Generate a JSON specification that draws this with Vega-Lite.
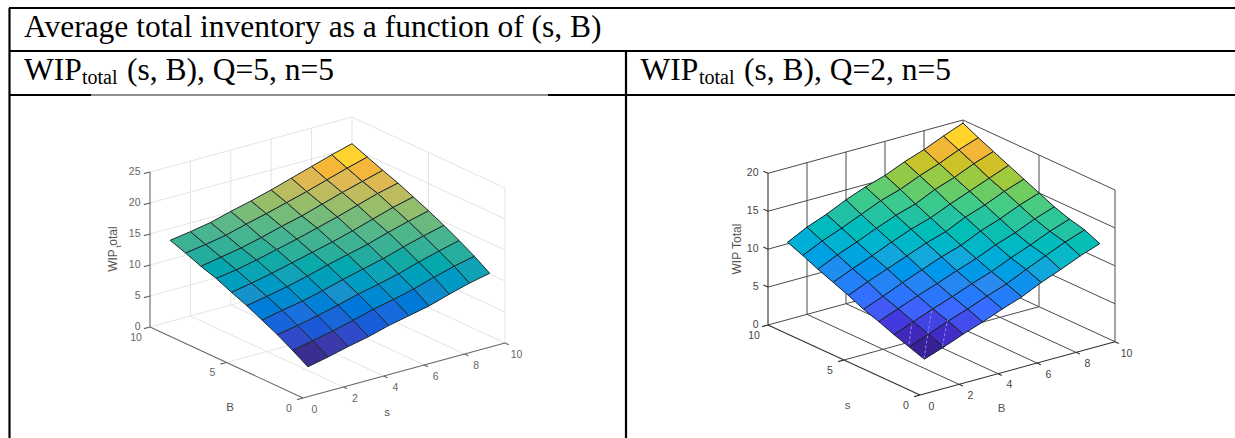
{"$schema":"https://vega.github.io/schema/vega-lite/v6.json","width":1235,"height":438,"autosize":"none","padding":0,"background":"white","config":{"view":{"stroke":null}},
"datasets":{
"tableLines":[
{"id":"top","px":9,"py":8},{"id":"top","px":1235,"py":8},
{"id":"r2","px":9,"py":51},{"id":"r2","px":1235,"py":51},
{"id":"left","px":9.5,"py":8},{"id":"left","px":9.5,"py":438},
{"id":"mid","px":626,"py":51},{"id":"mid","px":626,"py":438},
{"id":"r3a","px":9,"py":95},{"id":"r3a","px":91,"py":95},
{"id":"r3c","px":548,"py":95},{"id":"r3c","px":1235,"py":95}],
"thinLines":[{"id":"r3b","px":91,"py":95},{"id":"r3b","px":548,"py":95}],
"marks":[
{"id":"m1","px":911.7,"py":323.3},{"id":"m1","px":909,"py":344},
{"id":"m2","px":931.7,"py":310},{"id":"m2","px":924,"py":358.3},
{"id":"m3","px":947.5,"py":320},{"id":"m3","px":942.5,"py":346}],
"bigText":[
{"t":"Average total inventory as a function of (s, B)","px":24,"py":36.5},
{"t":"WIP","px":24,"py":79.5},{"t":"(s, B), Q=5, n=5","px":127,"py":79.5},
{"t":"WIP","px":640.5,"py":79.5},{"t":"(s, B), Q=2, n=5","px":744,"py":79.5}],
"subText":[{"t":"total","px":82,"py":84},{"t":"total","px":699,"py":84}],
"axisTitles":[{"t":"B","px":230,"py":408},{"t":"s","px":387,"py":413},{"t":"s","px":847.7,"py":405.7},{"t":"B","px":1001.7,"py":409}],
"yTitles":[{"t":"WIP","px":116.7,"py":260.5},{"t":"otal","px":116.7,"py":236},{"t":"WIP Total","px":740.7,"py":249}],
"ySub":[{"t":"t","px":121,"py":246.5}]
},
"data":{"values":[
{"kind":"v","p":1,"s":1,"B":1,"w":3.0},{"kind":"v","p":1,"s":2,"B":1,"w":3.7},{"kind":"v","p":1,"s":3,"B":1,"w":4.5},{"kind":"v","p":1,"s":4,"B":1,"w":5.2},{"kind":"v","p":1,"s":5,"B":1,"w":6.1},{"kind":"v","p":1,"s":6,"B":1,"w":6.8},{"kind":"v","p":1,"s":7,"B":1,"w":7.5},{"kind":"v","p":1,"s":8,"B":1,"w":8.5},{"kind":"v","p":1,"s":9,"B":1,"w":9.4},{"kind":"v","p":1,"s":10,"B":1,"w":10.1},
{"kind":"v","p":1,"s":1,"B":2,"w":4.5},{"kind":"v","p":1,"s":2,"B":2,"w":5.2},{"kind":"v","p":1,"s":3,"B":2,"w":5.9},{"kind":"v","p":1,"s":4,"B":2,"w":6.7},{"kind":"v","p":1,"s":5,"B":2,"w":7.6},{"kind":"v","p":1,"s":6,"B":2,"w":8.3},{"kind":"v","p":1,"s":7,"B":2,"w":9.1},{"kind":"v","p":1,"s":8,"B":2,"w":10.1},{"kind":"v","p":1,"s":9,"B":2,"w":11.0},{"kind":"v","p":1,"s":10,"B":2,"w":11.7},
{"kind":"v","p":1,"s":1,"B":3,"w":5.9},{"kind":"v","p":1,"s":2,"B":3,"w":6.5},{"kind":"v","p":1,"s":3,"B":3,"w":7.2},{"kind":"v","p":1,"s":4,"B":3,"w":8.0},{"kind":"v","p":1,"s":5,"B":3,"w":8.9},{"kind":"v","p":1,"s":6,"B":3,"w":9.6},{"kind":"v","p":1,"s":7,"B":3,"w":10.4},{"kind":"v","p":1,"s":8,"B":3,"w":11.4},{"kind":"v","p":1,"s":9,"B":3,"w":12.3},{"kind":"v","p":1,"s":10,"B":3,"w":13.1},
{"kind":"v","p":1,"s":1,"B":4,"w":7.1},{"kind":"v","p":1,"s":2,"B":4,"w":7.8},{"kind":"v","p":1,"s":3,"B":4,"w":8.4},{"kind":"v","p":1,"s":4,"B":4,"w":9.2},{"kind":"v","p":1,"s":5,"B":4,"w":10.1},{"kind":"v","p":1,"s":6,"B":4,"w":10.9},{"kind":"v","p":1,"s":7,"B":4,"w":11.7},{"kind":"v","p":1,"s":8,"B":4,"w":12.7},{"kind":"v","p":1,"s":9,"B":4,"w":13.6},{"kind":"v","p":1,"s":10,"B":4,"w":14.4},
{"kind":"v","p":1,"s":1,"B":5,"w":8.3},{"kind":"v","p":1,"s":2,"B":5,"w":8.9},{"kind":"v","p":1,"s":3,"B":5,"w":9.6},{"kind":"v","p":1,"s":4,"B":5,"w":10.4},{"kind":"v","p":1,"s":5,"B":5,"w":11.3},{"kind":"v","p":1,"s":6,"B":5,"w":12.1},{"kind":"v","p":1,"s":7,"B":5,"w":12.9},{"kind":"v","p":1,"s":8,"B":5,"w":13.9},{"kind":"v","p":1,"s":9,"B":5,"w":14.8},{"kind":"v","p":1,"s":10,"B":5,"w":15.6},
{"kind":"v","p":1,"s":1,"B":6,"w":9.3},{"kind":"v","p":1,"s":2,"B":6,"w":9.9},{"kind":"v","p":1,"s":3,"B":6,"w":10.6},{"kind":"v","p":1,"s":4,"B":6,"w":11.4},{"kind":"v","p":1,"s":5,"B":6,"w":12.2},{"kind":"v","p":1,"s":6,"B":6,"w":13.0},{"kind":"v","p":1,"s":7,"B":6,"w":13.9},{"kind":"v","p":1,"s":8,"B":6,"w":14.9},{"kind":"v","p":1,"s":9,"B":6,"w":15.9},{"kind":"v","p":1,"s":10,"B":6,"w":16.7},
{"kind":"v","p":1,"s":1,"B":7,"w":10.4},{"kind":"v","p":1,"s":2,"B":7,"w":10.9},{"kind":"v","p":1,"s":3,"B":7,"w":11.6},{"kind":"v","p":1,"s":4,"B":7,"w":12.4},{"kind":"v","p":1,"s":5,"B":7,"w":13.2},{"kind":"v","p":1,"s":6,"B":7,"w":14.1},{"kind":"v","p":1,"s":7,"B":7,"w":15.0},{"kind":"v","p":1,"s":8,"B":7,"w":16.0},{"kind":"v","p":1,"s":9,"B":7,"w":17.0},{"kind":"v","p":1,"s":10,"B":7,"w":17.8},
{"kind":"v","p":1,"s":1,"B":8,"w":11.2},{"kind":"v","p":1,"s":2,"B":8,"w":11.8},{"kind":"v","p":1,"s":3,"B":8,"w":12.4},{"kind":"v","p":1,"s":4,"B":8,"w":13.2},{"kind":"v","p":1,"s":5,"B":8,"w":14.1},{"kind":"v","p":1,"s":6,"B":8,"w":14.9},{"kind":"v","p":1,"s":7,"B":8,"w":15.9},{"kind":"v","p":1,"s":8,"B":8,"w":16.9},{"kind":"v","p":1,"s":9,"B":8,"w":17.8},{"kind":"v","p":1,"s":10,"B":8,"w":18.7},
{"kind":"v","p":1,"s":1,"B":9,"w":12.2},{"kind":"v","p":1,"s":2,"B":9,"w":12.7},{"kind":"v","p":1,"s":3,"B":9,"w":13.3},{"kind":"v","p":1,"s":4,"B":9,"w":14.2},{"kind":"v","p":1,"s":5,"B":9,"w":15.0},{"kind":"v","p":1,"s":6,"B":9,"w":15.9},{"kind":"v","p":1,"s":7,"B":9,"w":16.8},{"kind":"v","p":1,"s":8,"B":9,"w":17.8},{"kind":"v","p":1,"s":9,"B":9,"w":18.8},{"kind":"v","p":1,"s":10,"B":9,"w":19.7},
{"kind":"v","p":1,"s":1,"B":10,"w":13.1},{"kind":"v","p":1,"s":2,"B":10,"w":13.6},{"kind":"v","p":1,"s":3,"B":10,"w":14.2},{"kind":"v","p":1,"s":4,"B":10,"w":15.1},{"kind":"v","p":1,"s":5,"B":10,"w":15.9},{"kind":"v","p":1,"s":6,"B":10,"w":16.8},{"kind":"v","p":1,"s":7,"B":10,"w":17.8},{"kind":"v","p":1,"s":8,"B":10,"w":18.8},{"kind":"v","p":1,"s":9,"B":10,"w":19.8},{"kind":"v","p":1,"s":10,"B":10,"w":20.7},
{"kind":"v","p":2,"s":1,"B":1,"w":3.1},{"kind":"v","p":2,"s":2,"B":1,"w":3.8},{"kind":"v","p":2,"s":3,"B":1,"w":4.5},{"kind":"v","p":2,"s":4,"B":1,"w":5.3},{"kind":"v","p":2,"s":5,"B":1,"w":6.0},{"kind":"v","p":2,"s":6,"B":1,"w":6.9},{"kind":"v","p":2,"s":7,"B":1,"w":7.7},{"kind":"v","p":2,"s":8,"B":1,"w":8.5},{"kind":"v","p":2,"s":9,"B":1,"w":9.4},{"kind":"v","p":2,"s":10,"B":1,"w":10.2},
{"kind":"v","p":2,"s":1,"B":2,"w":4.0},{"kind":"v","p":2,"s":2,"B":2,"w":4.8},{"kind":"v","p":2,"s":3,"B":2,"w":5.5},{"kind":"v","p":2,"s":4,"B":2,"w":6.3},{"kind":"v","p":2,"s":5,"B":2,"w":7.0},{"kind":"v","p":2,"s":6,"B":2,"w":8.0},{"kind":"v","p":2,"s":7,"B":2,"w":8.8},{"kind":"v","p":2,"s":8,"B":2,"w":9.7},{"kind":"v","p":2,"s":9,"B":2,"w":10.6},{"kind":"v","p":2,"s":10,"B":2,"w":11.5},
{"kind":"v","p":2,"s":1,"B":3,"w":5.0},{"kind":"v","p":2,"s":2,"B":3,"w":5.8},{"kind":"v","p":2,"s":3,"B":3,"w":6.5},{"kind":"v","p":2,"s":4,"B":3,"w":7.3},{"kind":"v","p":2,"s":5,"B":3,"w":8.1},{"kind":"v","p":2,"s":6,"B":3,"w":9.0},{"kind":"v","p":2,"s":7,"B":3,"w":9.8},{"kind":"v","p":2,"s":8,"B":3,"w":10.7},{"kind":"v","p":2,"s":9,"B":3,"w":11.6},{"kind":"v","p":2,"s":10,"B":3,"w":12.5},
{"kind":"v","p":2,"s":1,"B":4,"w":5.9},{"kind":"v","p":2,"s":2,"B":4,"w":6.7},{"kind":"v","p":2,"s":3,"B":4,"w":7.4},{"kind":"v","p":2,"s":4,"B":4,"w":8.2},{"kind":"v","p":2,"s":5,"B":4,"w":9.1},{"kind":"v","p":2,"s":6,"B":4,"w":10.0},{"kind":"v","p":2,"s":7,"B":4,"w":10.9},{"kind":"v","p":2,"s":8,"B":4,"w":11.8},{"kind":"v","p":2,"s":9,"B":4,"w":12.7},{"kind":"v","p":2,"s":10,"B":4,"w":13.7},
{"kind":"v","p":2,"s":1,"B":5,"w":6.9},{"kind":"v","p":2,"s":2,"B":5,"w":7.7},{"kind":"v","p":2,"s":3,"B":5,"w":8.4},{"kind":"v","p":2,"s":4,"B":5,"w":9.2},{"kind":"v","p":2,"s":5,"B":5,"w":10.1},{"kind":"v","p":2,"s":6,"B":5,"w":11.0},{"kind":"v","p":2,"s":7,"B":5,"w":11.9},{"kind":"v","p":2,"s":8,"B":5,"w":12.8},{"kind":"v","p":2,"s":9,"B":5,"w":13.8},{"kind":"v","p":2,"s":10,"B":5,"w":14.7},
{"kind":"v","p":2,"s":1,"B":6,"w":7.8},{"kind":"v","p":2,"s":2,"B":6,"w":8.6},{"kind":"v","p":2,"s":3,"B":6,"w":9.3},{"kind":"v","p":2,"s":4,"B":6,"w":10.1},{"kind":"v","p":2,"s":5,"B":6,"w":10.9},{"kind":"v","p":2,"s":6,"B":6,"w":11.8},{"kind":"v","p":2,"s":7,"B":6,"w":12.7},{"kind":"v","p":2,"s":8,"B":6,"w":13.6},{"kind":"v","p":2,"s":9,"B":6,"w":14.6},{"kind":"v","p":2,"s":10,"B":6,"w":15.5},
{"kind":"v","p":2,"s":1,"B":7,"w":9.0},{"kind":"v","p":2,"s":2,"B":7,"w":9.8},{"kind":"v","p":2,"s":3,"B":7,"w":10.4},{"kind":"v","p":2,"s":4,"B":7,"w":11.2},{"kind":"v","p":2,"s":5,"B":7,"w":12.1},{"kind":"v","p":2,"s":6,"B":7,"w":13.0},{"kind":"v","p":2,"s":7,"B":7,"w":13.8},{"kind":"v","p":2,"s":8,"B":7,"w":14.8},{"kind":"v","p":2,"s":9,"B":7,"w":15.7},{"kind":"v","p":2,"s":10,"B":7,"w":16.6},
{"kind":"v","p":2,"s":1,"B":8,"w":10.0},{"kind":"v","p":2,"s":2,"B":8,"w":10.9},{"kind":"v","p":2,"s":3,"B":8,"w":11.4},{"kind":"v","p":2,"s":4,"B":8,"w":12.1},{"kind":"v","p":2,"s":5,"B":8,"w":13.0},{"kind":"v","p":2,"s":6,"B":8,"w":13.9},{"kind":"v","p":2,"s":7,"B":8,"w":14.8},{"kind":"v","p":2,"s":8,"B":8,"w":15.7},{"kind":"v","p":2,"s":9,"B":8,"w":16.6},{"kind":"v","p":2,"s":10,"B":8,"w":17.5},
{"kind":"v","p":2,"s":1,"B":9,"w":11.1},{"kind":"v","p":2,"s":2,"B":9,"w":12.0},{"kind":"v","p":2,"s":3,"B":9,"w":12.5},{"kind":"v","p":2,"s":4,"B":9,"w":13.2},{"kind":"v","p":2,"s":5,"B":9,"w":14.1},{"kind":"v","p":2,"s":6,"B":9,"w":15.0},{"kind":"v","p":2,"s":7,"B":9,"w":15.8},{"kind":"v","p":2,"s":8,"B":9,"w":16.8},{"kind":"v","p":2,"s":9,"B":9,"w":17.7},{"kind":"v","p":2,"s":10,"B":9,"w":18.6},
{"kind":"v","p":2,"s":1,"B":10,"w":12.0},{"kind":"v","p":2,"s":2,"B":10,"w":12.9},{"kind":"v","p":2,"s":3,"B":10,"w":13.4},{"kind":"v","p":2,"s":4,"B":10,"w":14.1},{"kind":"v","p":2,"s":5,"B":10,"w":15.0},{"kind":"v","p":2,"s":6,"B":10,"w":15.9},{"kind":"v","p":2,"s":7,"B":10,"w":16.8},{"kind":"v","p":2,"s":8,"B":10,"w":17.7},{"kind":"v","p":2,"s":9,"B":10,"w":18.6},{"kind":"v","p":2,"s":10,"B":10,"w":19.6},

{"kind":"g","p":1,"id":"w0","s":0,"B":10,"w":0},{"kind":"g","p":1,"id":"w0","s":10,"B":10,"w":0},{"kind":"g","p":1,"id":"w0","s":10,"B":0,"w":0},
{"kind":"g","p":1,"id":"w5","s":0,"B":10,"w":5},{"kind":"g","p":1,"id":"w5","s":10,"B":10,"w":5},{"kind":"g","p":1,"id":"w5","s":10,"B":0,"w":5},
{"kind":"g","p":1,"id":"w10","s":0,"B":10,"w":10},{"kind":"g","p":1,"id":"w10","s":10,"B":10,"w":10},{"kind":"g","p":1,"id":"w10","s":10,"B":0,"w":10},
{"kind":"g","p":1,"id":"w15","s":0,"B":10,"w":15},{"kind":"g","p":1,"id":"w15","s":10,"B":10,"w":15},{"kind":"g","p":1,"id":"w15","s":10,"B":0,"w":15},
{"kind":"g","p":1,"id":"w20","s":0,"B":10,"w":20},{"kind":"g","p":1,"id":"w20","s":10,"B":10,"w":20},{"kind":"g","p":1,"id":"w20","s":10,"B":0,"w":20},
{"kind":"g","p":1,"id":"w25","s":0,"B":10,"w":25},{"kind":"g","p":1,"id":"w25","s":10,"B":10,"w":25},{"kind":"g","p":1,"id":"w25","s":10,"B":0,"w":25},
{"kind":"g","p":1,"id":"vs2","s":2,"B":10,"w":0},{"kind":"g","p":1,"id":"vs2","s":2,"B":10,"w":25},
{"kind":"g","p":1,"id":"vs4","s":4,"B":10,"w":0},{"kind":"g","p":1,"id":"vs4","s":4,"B":10,"w":25},
{"kind":"g","p":1,"id":"vs6","s":6,"B":10,"w":0},{"kind":"g","p":1,"id":"vs6","s":6,"B":10,"w":25},
{"kind":"g","p":1,"id":"vs8","s":8,"B":10,"w":0},{"kind":"g","p":1,"id":"vs8","s":8,"B":10,"w":25},
{"kind":"g","p":1,"id":"vs10","s":10,"B":10,"w":0},{"kind":"g","p":1,"id":"vs10","s":10,"B":10,"w":25},
{"kind":"g","p":1,"id":"vb5","s":10,"B":5,"w":0},{"kind":"g","p":1,"id":"vb5","s":10,"B":5,"w":25},
{"kind":"g","p":1,"id":"vb0","s":10,"B":0,"w":0},{"kind":"g","p":1,"id":"vb0","s":10,"B":0,"w":25},
{"kind":"g","p":1,"id":"fs2","s":2,"B":0,"w":0},{"kind":"g","p":1,"id":"fs2","s":2,"B":10,"w":0},
{"kind":"g","p":1,"id":"fs4","s":4,"B":0,"w":0},{"kind":"g","p":1,"id":"fs4","s":4,"B":10,"w":0},
{"kind":"g","p":1,"id":"fs6","s":6,"B":0,"w":0},{"kind":"g","p":1,"id":"fs6","s":6,"B":10,"w":0},
{"kind":"g","p":1,"id":"fs8","s":8,"B":0,"w":0},{"kind":"g","p":1,"id":"fs8","s":8,"B":10,"w":0},
{"kind":"g","p":1,"id":"fb5","s":0,"B":5,"w":0},{"kind":"g","p":1,"id":"fb5","s":10,"B":5,"w":0},

{"kind":"g","p":2,"id":"w0","s":10,"B":0,"w":0},{"kind":"g","p":2,"id":"w0","s":10,"B":10,"w":0},{"kind":"g","p":2,"id":"w0","s":0,"B":10,"w":0},
{"kind":"g","p":2,"id":"w5","s":10,"B":0,"w":5},{"kind":"g","p":2,"id":"w5","s":10,"B":10,"w":5},{"kind":"g","p":2,"id":"w5","s":0,"B":10,"w":5},
{"kind":"g","p":2,"id":"w10","s":10,"B":0,"w":10},{"kind":"g","p":2,"id":"w10","s":10,"B":10,"w":10},{"kind":"g","p":2,"id":"w10","s":0,"B":10,"w":10},
{"kind":"g","p":2,"id":"w15","s":10,"B":0,"w":15},{"kind":"g","p":2,"id":"w15","s":10,"B":10,"w":15},{"kind":"g","p":2,"id":"w15","s":0,"B":10,"w":15},
{"kind":"g","p":2,"id":"w20","s":10,"B":0,"w":20},{"kind":"g","p":2,"id":"w20","s":10,"B":10,"w":20},{"kind":"g","p":2,"id":"w20","s":0,"B":10,"w":20},
{"kind":"g","p":2,"id":"vb2","s":10,"B":2,"w":0},{"kind":"g","p":2,"id":"vb2","s":10,"B":2,"w":20},
{"kind":"g","p":2,"id":"vb4","s":10,"B":4,"w":0},{"kind":"g","p":2,"id":"vb4","s":10,"B":4,"w":20},
{"kind":"g","p":2,"id":"vb6","s":10,"B":6,"w":0},{"kind":"g","p":2,"id":"vb6","s":10,"B":6,"w":20},
{"kind":"g","p":2,"id":"vb8","s":10,"B":8,"w":0},{"kind":"g","p":2,"id":"vb8","s":10,"B":8,"w":20},
{"kind":"g","p":2,"id":"vb10","s":10,"B":10,"w":0},{"kind":"g","p":2,"id":"vb10","s":10,"B":10,"w":20},
{"kind":"g","p":2,"id":"vs5","s":5,"B":10,"w":0},{"kind":"g","p":2,"id":"vs5","s":5,"B":10,"w":20},
{"kind":"g","p":2,"id":"vs0","s":0,"B":10,"w":0},{"kind":"g","p":2,"id":"vs0","s":0,"B":10,"w":20},
{"kind":"g","p":2,"id":"fb2","s":0,"B":2,"w":0},{"kind":"g","p":2,"id":"fb2","s":10,"B":2,"w":0},
{"kind":"g","p":2,"id":"fb4","s":0,"B":4,"w":0},{"kind":"g","p":2,"id":"fb4","s":10,"B":4,"w":0},
{"kind":"g","p":2,"id":"fb6","s":0,"B":6,"w":0},{"kind":"g","p":2,"id":"fb6","s":10,"B":6,"w":0},
{"kind":"g","p":2,"id":"fb8","s":0,"B":8,"w":0},{"kind":"g","p":2,"id":"fb8","s":10,"B":8,"w":0},
{"kind":"g","p":2,"id":"fs5","s":5,"B":0,"w":0},{"kind":"g","p":2,"id":"fs5","s":5,"B":10,"w":0},

{"kind":"a","p":1,"id":"z","s":0,"B":10,"w":0},{"kind":"a","p":1,"id":"z","s":0,"B":10,"w":25},
{"kind":"a","p":1,"id":"xs","s":0,"B":0,"w":0},{"kind":"a","p":1,"id":"xs","s":10,"B":0,"w":0},
{"kind":"a","p":1,"id":"xb","s":0,"B":0,"w":0},{"kind":"a","p":1,"id":"xb","s":0,"B":10,"w":0},
{"kind":"a","p":1,"id":"t1","s":2,"B":0,"w":0},{"kind":"a","p":1,"id":"t1","s":2,"B":-0.25,"w":0},
{"kind":"a","p":1,"id":"t2","s":4,"B":0,"w":0},{"kind":"a","p":1,"id":"t2","s":4,"B":-0.25,"w":0},
{"kind":"a","p":1,"id":"t3","s":6,"B":0,"w":0},{"kind":"a","p":1,"id":"t3","s":6,"B":-0.25,"w":0},
{"kind":"a","p":1,"id":"t4","s":8,"B":0,"w":0},{"kind":"a","p":1,"id":"t4","s":8,"B":-0.25,"w":0},
{"kind":"a","p":1,"id":"t5","s":10,"B":0,"w":0},{"kind":"a","p":1,"id":"t5","s":10,"B":-0.25,"w":0},
{"kind":"a","p":1,"id":"t6","s":0,"B":0,"w":0},{"kind":"a","p":1,"id":"t6","s":-0.3,"B":0,"w":0},
{"kind":"a","p":1,"id":"t7","s":0,"B":5,"w":0},{"kind":"a","p":1,"id":"t7","s":-0.3,"B":5,"w":0},
{"kind":"a","p":1,"id":"t8","s":0,"B":10,"w":0},{"kind":"a","p":1,"id":"t8","s":-0.3,"B":10,"w":0},
{"kind":"a","p":1,"id":"t9","s":0,"B":10,"w":5},{"kind":"a","p":1,"id":"t9","s":-0.3,"B":10,"w":5},
{"kind":"a","p":1,"id":"t10","s":0,"B":10,"w":10},{"kind":"a","p":1,"id":"t10","s":-0.3,"B":10,"w":10},
{"kind":"a","p":1,"id":"t11","s":0,"B":10,"w":15},{"kind":"a","p":1,"id":"t11","s":-0.3,"B":10,"w":15},
{"kind":"a","p":1,"id":"t12","s":0,"B":10,"w":20},{"kind":"a","p":1,"id":"t12","s":-0.3,"B":10,"w":20},
{"kind":"a","p":1,"id":"t13","s":0,"B":10,"w":25},{"kind":"a","p":1,"id":"t13","s":-0.3,"B":10,"w":25},

{"kind":"a","p":2,"id":"z","s":10,"B":0,"w":0},{"kind":"a","p":2,"id":"z","s":10,"B":0,"w":20},
{"kind":"a","p":2,"id":"xs","s":0,"B":0,"w":0},{"kind":"a","p":2,"id":"xs","s":10,"B":0,"w":0},
{"kind":"a","p":2,"id":"xb","s":0,"B":0,"w":0},{"kind":"a","p":2,"id":"xb","s":0,"B":10,"w":0},
{"kind":"a","p":2,"id":"t1","s":0,"B":2,"w":0},{"kind":"a","p":2,"id":"t1","s":-0.25,"B":2,"w":0},
{"kind":"a","p":2,"id":"t2","s":0,"B":4,"w":0},{"kind":"a","p":2,"id":"t2","s":-0.25,"B":4,"w":0},
{"kind":"a","p":2,"id":"t3","s":0,"B":6,"w":0},{"kind":"a","p":2,"id":"t3","s":-0.25,"B":6,"w":0},
{"kind":"a","p":2,"id":"t4","s":0,"B":8,"w":0},{"kind":"a","p":2,"id":"t4","s":-0.25,"B":8,"w":0},
{"kind":"a","p":2,"id":"t5","s":0,"B":10,"w":0},{"kind":"a","p":2,"id":"t5","s":-0.25,"B":10,"w":0},
{"kind":"a","p":2,"id":"t6","s":0,"B":0,"w":0},{"kind":"a","p":2,"id":"t6","s":0,"B":-0.3,"w":0},
{"kind":"a","p":2,"id":"t7","s":5,"B":0,"w":0},{"kind":"a","p":2,"id":"t7","s":5,"B":-0.3,"w":0},
{"kind":"a","p":2,"id":"t8","s":10,"B":0,"w":0},{"kind":"a","p":2,"id":"t8","s":10,"B":-0.3,"w":0},
{"kind":"a","p":2,"id":"t9","s":10,"B":0,"w":5},{"kind":"a","p":2,"id":"t9","s":10.3,"B":0,"w":5},
{"kind":"a","p":2,"id":"t10","s":10,"B":0,"w":10},{"kind":"a","p":2,"id":"t10","s":10.3,"B":0,"w":10},
{"kind":"a","p":2,"id":"t11","s":10,"B":0,"w":15},{"kind":"a","p":2,"id":"t11","s":10.3,"B":0,"w":15},
{"kind":"a","p":2,"id":"t12","s":10,"B":0,"w":20},{"kind":"a","p":2,"id":"t12","s":10.3,"B":0,"w":20},

{"kind":"zl","p":1,"s":0,"B":10,"w":0,"t":"0"},{"kind":"zl","p":1,"s":0,"B":10,"w":5,"t":"5"},{"kind":"zl","p":1,"s":0,"B":10,"w":10,"t":"10"},{"kind":"zl","p":1,"s":0,"B":10,"w":15,"t":"15"},{"kind":"zl","p":1,"s":0,"B":10,"w":20,"t":"20"},{"kind":"zl","p":1,"s":0,"B":10,"w":25,"t":"25"},
{"kind":"rl","p":1,"s":0,"B":0,"w":0,"t":"0"},{"kind":"rl","p":1,"s":2,"B":0,"w":0,"t":"2"},{"kind":"rl","p":1,"s":4,"B":0,"w":0,"t":"4"},{"kind":"rl","p":1,"s":6,"B":0,"w":0,"t":"6"},{"kind":"rl","p":1,"s":8,"B":0,"w":0,"t":"8"},{"kind":"rl","p":1,"s":10,"B":0,"w":0,"t":"10"},
{"kind":"ll","p":1,"s":0,"B":0,"w":0,"t":"0"},{"kind":"ll","p":1,"s":0,"B":5,"w":0,"t":"5"},{"kind":"ll","p":1,"s":0,"B":10,"w":0,"t":"10"},
{"kind":"zl","p":2,"s":10,"B":0,"w":0,"t":"0"},{"kind":"zl","p":2,"s":10,"B":0,"w":5,"t":"5"},{"kind":"zl","p":2,"s":10,"B":0,"w":10,"t":"10"},{"kind":"zl","p":2,"s":10,"B":0,"w":15,"t":"15"},{"kind":"zl","p":2,"s":10,"B":0,"w":20,"t":"20"},
{"kind":"rl","p":2,"s":0,"B":0,"w":0,"t":"0"},{"kind":"rl","p":2,"s":0,"B":2,"w":0,"t":"2"},{"kind":"rl","p":2,"s":0,"B":4,"w":0,"t":"4"},{"kind":"rl","p":2,"s":0,"B":6,"w":0,"t":"6"},{"kind":"rl","p":2,"s":0,"B":8,"w":0,"t":"8"},{"kind":"rl","p":2,"s":0,"B":10,"w":0,"t":"10"},
{"kind":"ll","p":2,"s":0,"B":0,"w":0,"t":"0"},{"kind":"ll","p":2,"s":5,"B":0,"w":0,"t":"5"},{"kind":"ll","p":2,"s":10,"B":0,"w":0,"t":"10"}
]},
"transform":[
{"calculate":"datum.p==1 ? 303+20.2*datum.s-15.3*datum.B : 920-15.2*datum.s+19.5*datum.B","as":"px"},
{"calculate":"datum.p==1 ? 398-5.5*datum.s-7.1*datum.B-6.2*datum.w : 395-7*datum.s-5.33*datum.B-7.585*datum.w","as":"py"}
],
"encoding":{
"x":{"field":"px","type":"quantitative","scale":{"domain":[0,1235],"nice":false,"zero":false},"axis":null},
"y":{"field":"py","type":"quantitative","scale":{"domain":[438,0],"nice":false,"zero":false},"axis":null}
},
"resolve":{"scale":{"fill":"independent"}},
"layer":[
{"transform":[{"filter":"datum.kind=='g'"},{"calculate":"datum.p+'-'+datum.id","as":"line"}],
 "mark":{"type":"line","strokeWidth":1},
 "encoding":{"detail":{"field":"line","type":"nominal"},"order":{"field":"w","type":"quantitative"},
  "stroke":{"condition":{"test":"datum.p==1","value":"#e4e4e4"},"value":"#4a4a4a"}}},
{"transform":[{"filter":"datum.kind=='a'"},{"calculate":"datum.p+'-'+datum.id","as":"line"}],
 "mark":{"type":"line","strokeWidth":1.1},
 "encoding":{"detail":{"field":"line","type":"nominal"},
  "stroke":{"condition":{"test":"datum.p==1","value":"#666666"},"value":"#2e2e2e"}}},
{"transform":[{"filter":"datum.kind=='v'&&datum.p==1"},{"calculate":"[0,1,2,3]","as":"k"},{"flatten":["k"]},
  {"calculate":"datum.s-(datum.k==1||datum.k==2?1:0)","as":"cs"},{"calculate":"datum.B-(datum.k>=2?1:0)","as":"cb"},
  {"filter":"datum.cs>=1&&datum.cs<=9&&datum.cb>=1&&datum.cb<=9"},{"calculate":"datum.cs*100+datum.cb","as":"cell"},
  {"joinaggregate":[{"op":"mean","field":"w","as":"m"}],"groupby":["cell"]}],
 "mark":{"type":"line","interpolate":"linear-closed","stroke":"#1c2a30","strokeWidth":1},
 "encoding":{"detail":{"field":"cell","type":"nominal"},"order":{"field":"k","type":"quantitative"},
  "fill":{"field":"m","type":"quantitative","legend":null,"scale":{"domain":[4.1,5,6,7.5,9,10.5,12,14,15.5,17,18,19,19.8],"range":["#3a2f8e","#3a3db5","#1f55d8","#1a70dc","#1c90cc","#12a3b8","#25ad9c","#55b78a","#8abc70","#c2bc5e","#e5b850","#fbb733","#ffd430"]}}}},
{"transform":[{"filter":"datum.kind=='v'&&datum.p==2"},{"calculate":"[0,1,2,3]","as":"k"},{"flatten":["k"]},
  {"calculate":"datum.s-(datum.k==1||datum.k==2?1:0)","as":"cs"},{"calculate":"datum.B-(datum.k>=2?1:0)","as":"cb"},
  {"filter":"datum.cs>=1&&datum.cs<=9&&datum.cb>=1&&datum.cb<=9"},{"calculate":"datum.cs*100+datum.cb","as":"cell"},
  {"joinaggregate":[{"op":"mean","field":"w","as":"m"}],"groupby":["cell"]}],
 "mark":{"type":"line","interpolate":"linear-closed","stroke":"#15202a","strokeWidth":1},
 "encoding":{"detail":{"field":"cell","type":"nominal"},"order":{"field":"k","type":"quantitative"},
  "fill":{"field":"m","type":"quantitative","legend":null,"scale":{"domain":[4.1,5.2,6.5,8.5,10,11,12.5,14,15,16,17,17.8,18.6],"range":["#3a229e","#4530d8","#4066ff","#2a8af0","#18a8dc","#06b8c8","#22c0a8","#45cc85","#70cc60","#a8c83a","#dcbe28","#f6b53c","#ffd22a"]}}}},
{"transform":[{"filter":"datum.kind=='zl'"}],"mark":{"type":"text","align":"right","baseline":"middle","dx":-9.5,"font":"Liberation Sans","fontSize":10.5},
 "encoding":{"text":{"field":"t"},"color":{"condition":{"test":"datum.p==1","value":"#666666"},"value":"#444444"}}},
{"transform":[{"filter":"datum.kind=='rl'"}],"mark":{"type":"text","align":"center","baseline":"middle","dx":11.5,"dy":11.8,"font":"Liberation Sans","fontSize":10.5},
 "encoding":{"text":{"field":"t"},"color":{"condition":{"test":"datum.p==1","value":"#666666"},"value":"#444444"}}},
{"transform":[{"filter":"datum.kind=='ll'"}],"mark":{"type":"text","align":"center","baseline":"middle","dx":-14,"dy":10.5,"font":"Liberation Sans","fontSize":10.5},
 "encoding":{"text":{"field":"t"},"color":{"condition":{"test":"datum.p==1","value":"#666666"},"value":"#444444"}}},
{"data":{"name":"marks"},"mark":{"type":"line","stroke":"#8f86e8","strokeWidth":1,"strokeDash":[3,2]},"encoding":{"detail":{"field":"id"}}},
{"data":{"name":"tableLines"},"mark":{"type":"line","stroke":"#000000","strokeWidth":2.2},"encoding":{"detail":{"field":"id"}}},
{"data":{"name":"thinLines"},"mark":{"type":"line","stroke":"#222222","strokeWidth":1},"encoding":{"detail":{"field":"id"}}},
{"data":{"name":"bigText"},"mark":{"type":"text","align":"left","baseline":"alphabetic","font":"Liberation Serif","fontSize":31.5,"color":"#000000"},"encoding":{"text":{"field":"t"}}},
{"data":{"name":"subText"},"mark":{"type":"text","align":"left","baseline":"alphabetic","font":"Liberation Serif","fontSize":20,"color":"#000000"},"encoding":{"text":{"field":"t"}}},
{"data":{"name":"axisTitles"},"mark":{"type":"text","align":"center","baseline":"middle","font":"Liberation Sans","fontSize":11.5,"color":"#555555"},"encoding":{"text":{"field":"t"}}},
{"data":{"name":"yTitles"},"mark":{"type":"text","align":"center","baseline":"alphabetic","angle":270,"font":"Liberation Sans","fontSize":12,"color":"#555555"},"encoding":{"text":{"field":"t"}}},
{"data":{"name":"ySub"},"mark":{"type":"text","align":"center","baseline":"alphabetic","angle":270,"font":"Liberation Sans","fontSize":8,"color":"#555555"},"encoding":{"text":{"field":"t"}}}
]}
